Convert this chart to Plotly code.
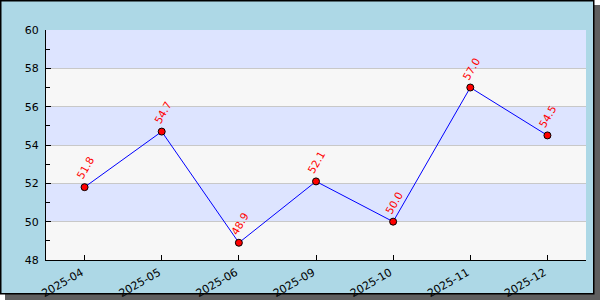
import plotly.graph_objects as go

categories = ["2025-04", "2025-05", "2025-06", "2025-09", "2025-10", "2025-11", "2025-12"]
values = [51.8, 54.7, 48.9, 52.1, 50.0, 57.0, 54.5]
y_range = [48, 60]
band_edges = [48, 50, 52, 54, 56, 58, 60]

W, H = 600, 300
L, R, T, B = 46, 14, 30, 40
pw, ph = W - L - R, H - T - B


def px_x(p):
    return (p - L) / pw


def px_y(p):
    return (H - B - p) / ph


fig = go.Figure()
fig.add_trace(go.Scatter(
    x=categories, y=values, mode="lines+markers",
    line=dict(color="blue", width=1),
    marker=dict(color="red", size=7, line=dict(color="black", width=1)),
    hoverinfo="skip", showlegend=False,
))

shapes = [
    # shadow
    dict(type="rect", xref="paper", yref="paper", layer="below",
         x0=px_x(5), x1=px_x(601), y0=px_y(5), y1=px_y(301),
         fillcolor="#5f5f5f", line=dict(width=0)),
    # frame
    dict(type="rect", xref="paper", yref="paper", layer="below",
         x0=px_x(0.75), x1=px_x(593.75), y0=px_y(0.75), y1=px_y(293.75),
         fillcolor="#add8e6", line=dict(color="black", width=1.5)),
]
for i in range(len(band_edges) - 1):
    shapes.append(dict(
        type="rect", xref="x domain", yref="y", layer="below",
        x0=0, x1=1, y0=band_edges[i], y1=band_edges[i + 1],
        fillcolor="#f7f7f7" if i % 2 == 0 else "#dde4ff",
        line=dict(width=0),
    ))

annotations = []
for c, v in zip(categories, values):
    annotations.append(dict(
        x=c, y=v, xref="x", yref="y", text=f"{v:.1f}", showarrow=False,
        textangle=-60, yshift=19, xshift=0.5,
        font=dict(family="DejaVu Sans", size=10.5, color="red"),
    ))

fig.update_layout(
    width=W, height=H,
    margin=dict(l=L, r=R, t=T, b=B, pad=0, autoexpand=False),
    paper_bgcolor="white", plot_bgcolor="rgba(0,0,0,0)",
    font=dict(family="DejaVu Sans", size=11, color="black"),
    shapes=shapes, annotations=annotations,
    xaxis=dict(
        type="category", range=[-0.5, len(categories) - 0.5],
        showgrid=False, showline=True, linecolor="black", linewidth=1,
        ticks="inside", ticklen=5, tickcolor="black", tickangle=-30,
        ticklabelstandoff=1, ticklabelshift=-3,
        zeroline=False, fixedrange=True, automargin=False,
    ),
    yaxis=dict(
        range=y_range, dtick=2, tick0=48,
        showgrid=True, gridcolor="#c8c8c8", gridwidth=1,
        showline=True, linecolor="black", linewidth=1,
        ticks="inside", ticklen=5, tickcolor="black",
        ticklabelstandoff=4,
        minor=dict(dtick=1, ticks="inside", ticklen=4, tickcolor="black", showgrid=False),
        zeroline=False, fixedrange=True, automargin=False,
    ),
)

fig.write_html("out.html")
